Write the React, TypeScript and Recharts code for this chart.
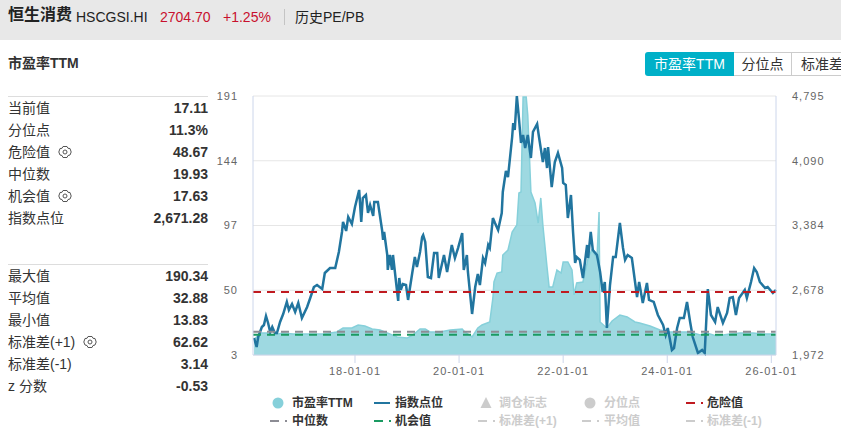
import {
  Area,
  CartesianGrid,
  ComposedChart,
  Line,
  ReferenceLine,
  XAxis,
  YAxis,
} from "recharts";

// x values are decimal years
const indexYears = [
  2016.06, 2016.11, 2016.14, 2016.21, 2016.25, 2016.29, 2016.33, 2016.37, 2016.41, 2016.46, 2016.5, 2016.56, 2016.62,
  2016.69, 2016.73, 2016.79, 2016.85, 2016.91, 2016.98, 2017.08, 2017.14, 2017.21, 2017.27, 2017.37, 2017.42, 2017.52,
  2017.62, 2017.69, 2017.75, 2017.77, 2017.83, 2017.87, 2017.94, 2018.0, 2018.08, 2018.12, 2018.15, 2018.21, 2018.25,
  2018.29, 2018.35, 2018.37, 2018.44, 2018.52, 2018.54, 2018.56, 2018.62, 2018.63, 2018.67, 2018.71, 2018.73, 2018.81,
  2018.83, 2018.85, 2018.88, 2018.92, 2018.98, 2019.02, 2019.1, 2019.15, 2019.19, 2019.25, 2019.29, 2019.31, 2019.35,
  2019.4, 2019.46, 2019.52, 2019.58, 2019.61, 2019.71, 2019.77, 2019.86, 2019.92, 2019.98, 2020.06, 2020.09, 2020.15,
  2020.17, 2020.25, 2020.31, 2020.36, 2020.4, 2020.46, 2020.5, 2020.56, 2020.59, 2020.65, 2020.69, 2020.75, 2020.82,
  2020.84, 2020.9, 2020.94, 2021.02, 2021.04, 2021.07, 2021.11, 2021.15, 2021.19, 2021.23, 2021.27, 2021.32, 2021.38,
  2021.42, 2021.5, 2021.53, 2021.61, 2021.65, 2021.69, 2021.71, 2021.78, 2021.84, 2021.9, 2021.98, 2022.0, 2022.05,
  2022.09, 2022.15, 2022.19, 2022.23, 2022.26, 2022.32, 2022.38, 2022.46, 2022.48, 2022.53, 2022.57, 2022.65, 2022.71,
  2022.76, 2022.8, 2022.84, 2022.9, 2022.96, 2023.01, 2023.09, 2023.15, 2023.19, 2023.24, 2023.32, 2023.42, 2023.46,
  2023.53, 2023.61, 2023.65, 2023.74, 2023.82, 2023.92, 2023.97, 2024.01, 2024.09, 2024.13, 2024.19, 2024.24, 2024.32,
  2024.38, 2024.44, 2024.49, 2024.59, 2024.67, 2024.72, 2024.78, 2024.84, 2024.92, 2024.97, 2025.07, 2025.15, 2025.2,
  2025.26, 2025.32, 2025.38, 2025.49, 2025.53, 2025.61, 2025.67, 2025.72, 2025.78, 2025.88, 2025.93, 2026.03, 2026.09,
];
const indexValues = [
  2157, 2059, 2168, 2277, 2299, 2397, 2321, 2223, 2277, 2212, 2212, 2332, 2419,
  2550, 2463, 2528, 2441, 2539, 2375, 2495, 2593, 2713, 2735, 2691, 2866, 2920,
  2920, 3095, 3313, 3422, 3324, 3476, 3400, 3585, 3771, 3422, 3683, 3716, 3520,
  3607, 3487, 3640, 3640, 3335, 3226, 3313, 3062, 2899, 3062, 2899, 3062, 2659,
  2561, 2811, 2681, 2746, 2735, 2572, 2866, 3040, 2931, 3095, 3258, 3280, 3204,
  2822, 2811, 3084, 3084, 2811, 3062, 2877, 3171, 3029, 3138, 3302, 2899, 3062,
  2877, 2419, 2713, 2855, 2735, 3029, 2975, 3171, 3138, 3465, 3411, 3335, 3520,
  3749, 3978, 3912, 4348, 4501, 4425, 4795, 4555, 4283, 4370, 4228, 4370, 4119,
  4403, 4490, 4370, 4076, 4228, 4010, 4239, 3803, 4076, 4174, 4010, 3847, 3825,
  3465, 3716, 3313, 2975, 3040, 3008, 2811, 3171, 3029, 3313, 3117, 3062, 2877,
  2659, 2768, 2266, 2735, 3040, 3040, 3411, 3138, 3008, 3062, 3029, 2604, 2768,
  2539, 2757, 2572, 2550, 2408, 2299, 2190, 2266, 2027, 2048, 2266, 2375, 2375,
  2550, 2332, 2168, 1994, 2027, 1994, 2691, 2408, 2332, 2495, 2321, 2430, 2593,
  2604, 2408, 2593, 2681, 2593, 2768, 2920, 2877, 2768, 2702, 2713, 2648, 2681,
];

const peYears = [
  2016.06, 2016.18, 2016.31, 2016.42, 2016.62, 2016.81, 2017.08, 2017.39, 2017.65, 2017.77, 2017.94, 2018.06, 2018.19,
  2018.33, 2018.48, 2018.62, 2018.81, 2019.0, 2019.11, 2019.25, 2019.35, 2019.44, 2019.63, 2019.83, 2020.06, 2020.11,
  2020.25, 2020.36, 2020.44, 2020.59, 2020.65, 2020.67, 2020.73, 2020.82, 2020.84, 2020.94, 2021.02, 2021.11, 2021.15,
  2021.19, 2021.23, 2021.29, 2021.32, 2021.38, 2021.46, 2021.52, 2021.57, 2021.61, 2021.69, 2021.73, 2021.8, 2021.88,
  2021.96, 2022.0, 2022.09, 2022.17, 2022.21, 2022.26, 2022.38, 2022.48, 2022.55, 2022.65, 2022.69, 2022.71, 2022.84,
  2022.94, 2023.09, 2023.23, 2023.38, 2023.47, 2023.67, 2023.86, 2024.05, 2024.24, 2024.44, 2024.63, 2024.76, 2024.95,
  2025.2, 2025.4, 2025.65, 2025.84, 2026.09,
];
const peValues = [
  14, 19, 19, 17.5, 19, 18.2, 18.2, 18.2, 19.7, 22.6, 22.6, 24.8, 24,
  21.9, 21.1, 19, 16.1, 15.3, 17.5, 21.9, 21.9, 19.7, 19.7, 21.1, 21.9, 19.7,
  16.1, 22.6, 24.8, 27, 44.4, 56, 62.5, 63.3, 75.6, 79.2, 92.3, 97.4, 120.6,
  121.3, 190.3, 190.3, 177.2, 121.3, 113.3, 98.8, 117, 97.4, 66.9, 52.4, 52.4, 64.7,
  62.5, 70.5, 70.5, 64.7, 46.6, 55.3, 56, 73.4, 79.2, 73.4, 106.8, 27, 22.6,
  27.7, 32, 30.6, 27, 26.2, 24, 21.1, 19.7, 19.7, 19.7, 17.5, 19, 16.8,
  18.2, 19, 19, 18.2, 18.2,
];

const yearTicks = [2018, 2020, 2022, 2024, 2026];
const peTicks = [3, 50, 97, 144, 191];
const indexTicks = [1972, 2678, 3384, 4090, 4795];
const DANGER = 48.67;
const MEDIAN = 19.93;
const CHANCE = 17.63;

const statsTop = [
  ["当前值", "17.11", false],
  ["分位点", "11.3%", false],
  ["危险值", "48.67", true],
  ["中位数", "19.93", false],
  ["机会值", "17.63", true],
  ["指数点位", "2,671.28", false],
] as const;
const statsBottom = [
  ["最大值", "190.34", false],
  ["平均值", "32.88", false],
  ["最小值", "13.83", false],
  ["标准差(+1)", "62.62", true],
  ["标准差(-1)", "3.14", false],
  ["z 分数", "-0.53", false],
] as const;

const AREA_COLOR = "#86d0da";
const LINE_COLOR = "#21759f";
const RED = "#c01a20";
const GREY = "#8c8c94";
const GREEN = "#1a9a62";
const OFF = "#cccccc";
const FONT = '"Liberation Sans", "Noto Sans CJK SC", sans-serif';

const indexRows = indexYears.map((year, i) => ({ year, index: indexValues[i] }));
const peRows = peYears.map((year, i) => ({ year, pe: peValues[i] }));

function Gear({ x, y }: { x: number; y: number }) {
  return (
    <svg width={14} height={14} viewBox="0 0 14 14" style={{ position: "absolute", left: x, top: y }}>
      <path
        d="M5 1.5h4l1 1.8 2 .2 1.2 3.5-1.2 3-2 .5-1 2H5l-1-2-2-.5L.8 7l1.2-3.5 2-.2z"
        fill="none"
        stroke="#555"
        strokeWidth={1}
      />
      <circle cx={7} cy={7} r={2} fill="none" stroke="#555" strokeWidth={1} />
    </svg>
  );
}

function StatBlock({ rows, top }: { rows: readonly (readonly [string, string, boolean])[]; top: number }) {
  return (
    <>
      <div style={{ position: "absolute", left: 8, top, width: 200, height: 1, background: "#dddddd" }} />
      {rows.map(([label, value, gear], i) => {
        const rowY = top + 1 + i * 22;
        return (
          <div key={label}>
            <div style={{ position: "absolute", left: 8, top: rowY, height: 22, lineHeight: "22px", fontSize: 14, color: "#333" }}>
              {label}
            </div>
            {gear ? <Gear x={label.length > 3 ? 83 : 58} y={rowY + 4} /> : null}
            <div
              style={{
                position: "absolute",
                right: 841 - 208,
                top: rowY,
                height: 22,
                lineHeight: "22px",
                fontSize: 14,
                fontWeight: 700,
                color: "#333",
              }}
            >
              {value}
            </div>
          </div>
        );
      })}
    </>
  );
}

function LegendText({ x, y, color, children }: { x: number; y: number; color: string; children: string }) {
  return (
    <text x={x} y={y} dy={4} fontSize={12} fontWeight={700} fill={color} fontFamily={FONT}>
      {children}
    </text>
  );
}

function LegendDash({ x, y, color }: { x: number; y: number; color: string }) {
  return (
    <g stroke={color} strokeWidth={2}>
      <line x1={x} x2={x + 9} y1={y} y2={y} />
      <line x1={x + 15} x2={x + 17} y1={y} y2={y} />
    </g>
  );
}

function ChartLegend() {
  const row1 = 403;
  const row2 = 421;
  return (
    <svg width={841} height={435} style={{ position: "absolute", left: 0, top: 0, pointerEvents: "none" }}>
      <circle cx={278} cy={row1} r={5.5} fill={AREA_COLOR} />
      <LegendText x={292} y={row1} color="#333">市盈率TTM</LegendText>
      <line x1={374} x2={390} y1={row1} y2={row1} stroke={LINE_COLOR} strokeWidth={2} />
      <LegendText x={395} y={row1} color="#333">指数点位</LegendText>
      <path d="M486 397 L491.5 408 L480.5 408 Z" fill={OFF} />
      <LegendText x={499} y={row1} color={OFF}>调仓标志</LegendText>
      <circle cx={590} cy={row1} r={5.5} fill={OFF} />
      <LegendText x={604} y={row1} color={OFF}>分位点</LegendText>
      <LegendDash x={686} y={row1} color={RED} />
      <LegendText x={707} y={row1} color="#333">危险值</LegendText>

      <LegendDash x={270} y={row2} color={GREY} />
      <LegendText x={292} y={row2} color="#333">中位数</LegendText>
      <LegendDash x={374} y={row2} color={GREEN} />
      <LegendText x={395} y={row2} color="#333">机会值</LegendText>
      <LegendDash x={478} y={row2} color={OFF} />
      <LegendText x={499} y={row2} color={OFF}>标准差(+1)</LegendText>
      <LegendDash x={582} y={row2} color={OFF} />
      <LegendText x={604} y={row2} color={OFF}>平均值</LegendText>
      <LegendDash x={686} y={row2} color={OFF} />
      <LegendText x={707} y={row2} color={OFF}>标准差(-1)</LegendText>
    </svg>
  );
}

export default function App() {
  const axisColor = "#ccd6eb";
  const tick = { fontSize: 11, fill: "#666", letterSpacing: 1, fontFamily: FONT };

  return (
    <div style={{ position: "absolute", left: 0, top: 0, width: 841, height: 435, overflow: "hidden", background: "#fff", fontFamily: FONT }}>
      <div style={{ position: "absolute", left: 0, top: 0, width: 841, height: 40, background: "#e8e8e8" }} />
      <div style={{ position: "absolute", left: 8, top: 4, lineHeight: "22px", fontSize: 16, fontWeight: 700, color: "#222" }}>恒生消费</div>
      <div style={{ position: "absolute", left: 76, top: 6, lineHeight: "22px", fontSize: 14, color: "#222" }}>HSCGSI.HI</div>
      <div style={{ position: "absolute", left: 160, top: 6, lineHeight: "22px", fontSize: 14, color: "#c8102e" }}>2704.70</div>
      <div style={{ position: "absolute", left: 223, top: 6, lineHeight: "22px", fontSize: 14, color: "#c8102e" }}>+1.25%</div>
      <div style={{ position: "absolute", left: 284, top: 9, width: 1, height: 16, background: "#c4c4c4" }} />
      <div style={{ position: "absolute", left: 295, top: 6, lineHeight: "22px", fontSize: 14, color: "#222" }}>历史PE/PB</div>

      <div style={{ position: "absolute", left: 8, top: 52, lineHeight: "22px", fontSize: 14, fontWeight: 700, color: "#333" }}>市盈率TTM</div>

      <div
        style={{
          position: "absolute",
          left: 645,
          top: 52,
          width: 89,
          height: 24,
          lineHeight: "24px",
          textAlign: "center",
          fontSize: 14,
          color: "#fff",
          background: "#00b0c8",
          borderRadius: "3px 0 0 3px",
        }}
      >
        市盈率TTM
      </div>
      <div
        style={{
          position: "absolute",
          left: 734,
          top: 52,
          width: 57,
          height: 22,
          lineHeight: "22px",
          textAlign: "center",
          fontSize: 14,
          color: "#333",
          border: "1px solid #ccc",
          borderLeft: "none",
        }}
      >
        分位点
      </div>
      <div
        style={{
          position: "absolute",
          left: 792,
          top: 52,
          width: 60,
          height: 22,
          lineHeight: "22px",
          paddingLeft: 9,
          fontSize: 14,
          color: "#333",
          whiteSpace: "nowrap",
          borderTop: "1px solid #ccc",
          borderBottom: "1px solid #ccc",
        }}
      >
        标准差
      </div>

      <StatBlock rows={statsTop} top={96} />
      <StatBlock rows={statsBottom} top={264} />

      <ComposedChart
        width={841}
        height={435}
        margin={{ top: 96, right: 0, bottom: 50, left: 200 }}
        style={{ position: "absolute", left: 0, top: 0 }}
      >
        <CartesianGrid yAxisId="pe" vertical={false} stroke="#e6e6e6" />
        <XAxis
          dataKey="year"
          type="number"
          domain={[2016.04, 2026.09]}
          ticks={yearTicks}
          allowDuplicatedCategory={false}
          height={30}
          tick={tick}
          tickSize={8}
          tickMargin={4}
          tickFormatter={(y: number) => `${String(y).slice(2)}-01-01`}
          axisLine={{ stroke: axisColor }}
          tickLine={{ stroke: axisColor }}
        />
        <YAxis
          yAxisId="pe"
          width={53}
          domain={[3, 191]}
          ticks={peTicks}
          interval={0}
          tick={tick}
          tickSize={0}
          tickMargin={15}
          axisLine={{ stroke: axisColor }}
          tickLine={false}
        />
        <YAxis
          yAxisId="index"
          orientation="right"
          width={65}
          domain={[1972, 4795]}
          ticks={indexTicks}
          interval={0}
          tick={tick}
          tickSize={0}
          tickMargin={16}
          tickFormatter={(v: number) => v.toLocaleString("en-US")}
          axisLine={{ stroke: axisColor }}
          tickLine={false}
        />
        <Area
          yAxisId="pe"
          data={peRows}
          dataKey="pe"
          type="linear"
          stroke={AREA_COLOR}
          strokeWidth={1.5}
          fill={AREA_COLOR}
          fillOpacity={0.8}
          dot={false}
          isAnimationActive={false}
        />
        <Line
          yAxisId="index"
          data={indexRows}
          dataKey="index"
          type="linear"
          stroke={LINE_COLOR}
          strokeWidth={2.5}
          dot={false}
          isAnimationActive={false}
        />
        <ReferenceLine yAxisId="pe" y={DANGER} stroke={RED} strokeWidth={2} strokeDasharray="8 6" />
        <ReferenceLine yAxisId="pe" y={MEDIAN} stroke={GREY} strokeWidth={2} strokeDasharray="8 6" />
        <ReferenceLine yAxisId="pe" y={CHANCE} stroke={GREEN} strokeWidth={2} strokeDasharray="8 6" />
      </ComposedChart>

      <ChartLegend />
    </div>
  );
}
